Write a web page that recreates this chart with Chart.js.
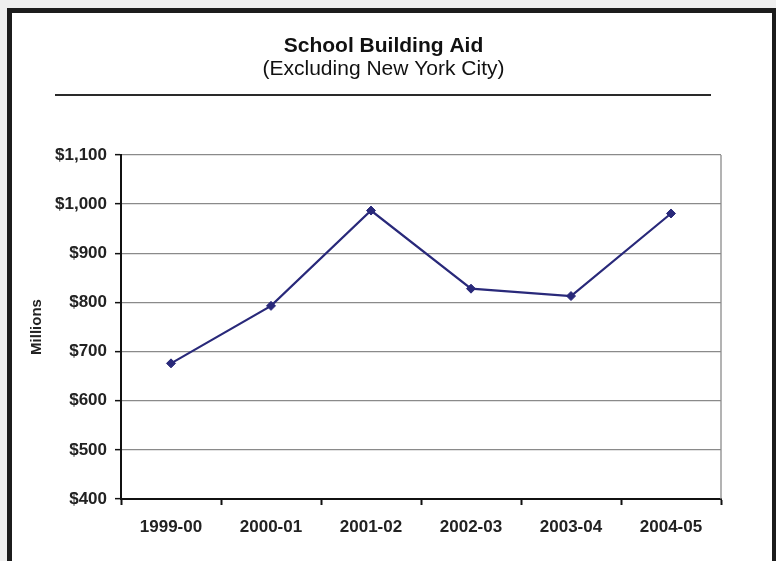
<!DOCTYPE html>
<html>
<head>
<meta charset="utf-8">
<title>School Building Aid</title>
<script src="https://cdn.jsdelivr.net/npm/chart.js@4.4.1/dist/chart.umd.min.js"></script>
<style>
  html, body { margin: 0; padding: 0; width: 776px; height: 561px; overflow: hidden; background: #efefef; }
  #frame {
    position: absolute; left: 7px; top: 8px; width: 760px; height: 600px;
    background: #fff; border: 5px solid #1c1c1c; border-bottom: none;
  }
  #chart { position: absolute; left: 0; top: 0; }
</style>
</head>
<body>
<div id="frame"></div>
<canvas id="chart" width="776" height="561"></canvas>
<script>
// school years and aid totals ($ millions, excluding NYC)
const years = ['1999-00', '2000-01', '2001-02', '2002-03', '2003-04', '2004-05'];
const aidMillions = [676, 793, 987, 828, 813, 981];
const yTickValues = [400, 500, 600, 700, 800, 900, 1000, 1100];

const FONT = '"Liberation Sans", Arial, sans-serif';
const LINE_COLOR = '#29297a';

function money(v) {
  return '$' + Number(v).toLocaleString('en-US');
}

// heading block: title, subtitle and the rule under them
const heading = {
  id: 'heading',
  afterDraw(chart) {
    const ctx = chart.ctx;
    ctx.save();
    ctx.fillStyle = '#111';
    ctx.textAlign = 'center';
    ctx.textBaseline = 'alphabetic';
    ctx.font = 'bold 21px ' + FONT;
    ctx.fillText('School Building Aid', 383.5, 52);
    ctx.font = '21px ' + FONT;
    ctx.fillText('(Excluding New York City)', 383.5, 75);
    ctx.strokeStyle = '#2a2a2a';
    ctx.lineWidth = 2;
    ctx.beginPath();
    ctx.moveTo(55, 95);
    ctx.lineTo(711, 95);
    ctx.stroke();
    // thin frame on the right side of the plot
    const a = chart.chartArea;
    ctx.strokeStyle = '#8a8a8a';
    ctx.lineWidth = 1.3;
    ctx.beginPath();
    ctx.moveTo(a.right, a.top);
    ctx.lineTo(a.right, a.bottom);
    ctx.stroke();
    ctx.restore();
  }
};

new Chart(document.getElementById('chart'), {
  type: 'line',
  data: {
    labels: years,
    datasets: [{
      data: aidMillions,
      borderColor: LINE_COLOR,
      backgroundColor: LINE_COLOR,
      borderWidth: 2.2,
      tension: 0,
      pointStyle: 'rectRot',
      pointRadius: 4.5,
      pointBorderWidth: 1,
      pointBackgroundColor: LINE_COLOR,
      pointBorderColor: LINE_COLOR
    }]
  },
  options: {
    responsive: false,
    animation: false,
    layout: { padding: { top: 155, right: 55, bottom: 0, left: 0 } },
    plugins: {
      legend: { display: false },
      tooltip: { enabled: false }
    },
    scales: {
      x: {
        offset: true,
        grid: { offset: true, drawOnChartArea: false, tickLength: 6, tickColor: '#111', tickWidth: 2 },
        border: { color: '#111', width: 2 },
        ticks: { color: '#222', font: { family: FONT, size: 17, weight: 'bold' }, padding: 12, maxRotation: 0 },
        afterFit(s) { s.height = 62; }
      },
      y: {
        min: yTickValues[0],
        max: yTickValues[yTickValues.length - 1],
        afterBuildTicks(s) { s.ticks = yTickValues.map(v => ({ value: v })); },
        ticks: { callback: money, color: '#222', font: { family: FONT, size: 17, weight: 'bold' }, padding: 8 },
        grid: { color: '#8a8a8a', lineWidth: 1.3, tickLength: 6, tickColor: '#111', tickWidth: 1.5 },
        border: { color: '#111', width: 2 },
        title: {
          display: true, text: 'Millions', color: '#222',
          font: { family: FONT, size: 15, weight: 'bold' },
          padding: { top: 28, bottom: 0 }
        },
        afterFit(s) { s.width = 121; }
      }
    }
  },
  plugins: [heading]
});
</script>
</body>
</html>
